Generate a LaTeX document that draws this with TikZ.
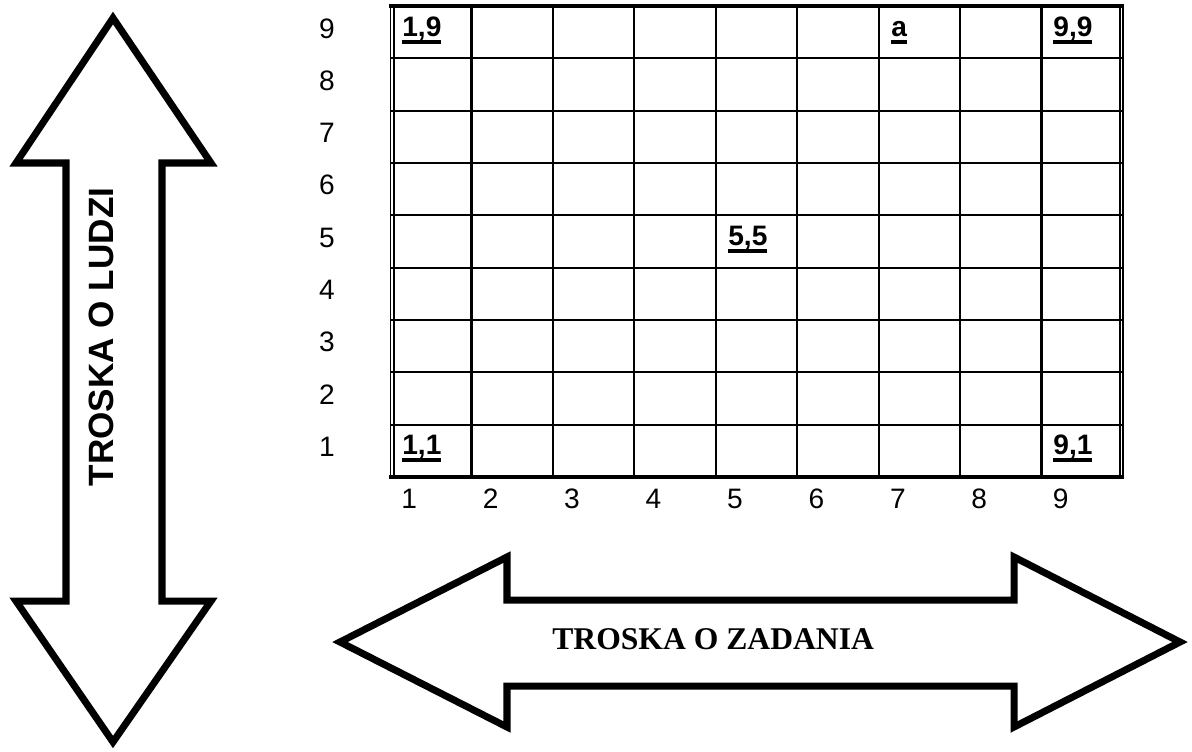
\documentclass[tikz,border=0pt]{standalone}
\usepackage{fontspec}
\setmainfont{Liberation Serif}
\setsansfont{Liberation Sans}
\usepackage{tikz}
\usetikzlibrary{positioning}
\definecolor{ink}{HTML}{000000}
\tikzset{
  arw/.style  ={draw=ink, line width=4pt, line join=miter, fill=white},
  grd/.style  ={draw=ink, line width=1.2pt},
  frm/.style  ={draw=ink, line width=1.8pt},
  dbl/.style  ={draw=ink, line width=.9pt},
  ax/.style   ={font=\sffamily\fontsize{16}{18}\selectfont, text=ink, inner sep=0pt},
  cell/.style ={font=\sffamily\bfseries\fontsize{16}{18}\selectfont, text=ink, inner sep=0pt, anchor=base west},
  ttl/.style  ={font=\bfseries\fontsize{18}{20}\selectfont, text=ink, inner sep=0pt},
}
\newcommand{\ulbox}[1]{\setbox0\hbox{#1}\rlap{\rule[-4.5pt]{\wd0}{2pt}}\box0}

\begin{document}
\begin{tikzpicture}[x=0.02cm, y=-0.02cm]
  \useasboundingbox (0,0) rectangle (1192,751);
  % vertical double arrow
  \draw[arw] (113,18) -- (211,163) -- (162,163) -- (162,601) -- (211,601) -- (113,742)
             -- (16,601) -- (66,601) -- (66,163) -- (16,163) -- cycle;
  \node[ttl, font=\sffamily\bfseries\fontsize{20}{22}\selectfont, rotate=90] (ludzi) at (101,337) {TROSKA O LUDZI};
  % horizontal double arrow
  \draw[arw] (340,642) -- (507,557) -- (507,600) -- (1014,600) -- (1014,557) -- (1180,642)
             -- (1014,727) -- (1014,686) -- (507,686) -- (507,727) -- cycle;
  \node[ttl, anchor=base west] (zadania) at (552,649) {TROSKA O ZADANIA};
  % grid
  \foreach \i in {1,...,8}
    \draw[grd] ({390+\i*81.44},6) -- ({390+\i*81.44},477);
  \foreach \j in {1,...,8}
    \draw[grd] (390,{6+\j*52.33}) -- (1123,{6+\j*52.33});
  \draw[frm] (389,6) -- (1124,6);
  \draw[frm] (389,477) -- (1124,477);
  \draw[dbl] (390.5,6) -- (390.5,477);
  \draw[dbl] (393.8,6) -- (393.8,477);
  \draw[dbl] (1119.7,6) -- (1119.7,477);
  \draw[dbl] (1123,6) -- (1123,477);
  % axis numbers
  \foreach \r in {1,...,9}
    \node[ax, anchor=base] (y\r) at (327,{6+(9-\r)*52.33+32}) {\r};
  \foreach \c in {1,...,9}
    \node[ax, anchor=base west] (x\c) at ({390+(\c-1)*81.44+11},508) {\c};
  % cell marks
  \node[cell] (c19) at (402,36)  {\ulbox{1,9}};
  \node[cell] (c11) at (402,454) {\ulbox{1,1}};
  \node[cell] (c99) at (1053,36) {\ulbox{9,9}};
  \node[cell] (c91) at (1053,454) {\ulbox{9,1}};
  \node[cell] (c55) at (728,245) {\ulbox{5,5}};
  \node[cell] (ca)  at (891,36)  {\ulbox{a}};
\end{tikzpicture}
\end{document}
